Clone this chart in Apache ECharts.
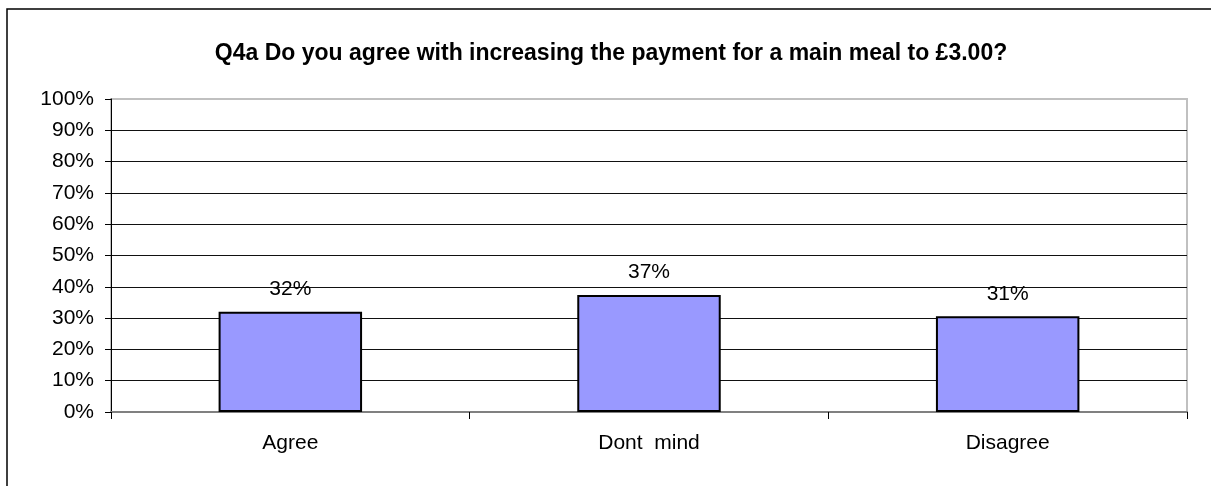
<!DOCTYPE html>
<html><head><meta charset="utf-8">
<script src="https://cdn.jsdelivr.net/npm/echarts@6/dist/echarts.min.js"></script>
<style>html,body{margin:0;padding:0;background:#fff}#c{width:1211px;height:486px}</style>
</head><body><div id="c"></div>
<script>
var titleText = 'Q4a Do you agree with increasing the payment for a main meal to £3.00?';
var categories = ['Agree', 'Dont  mind', 'Disagree'];
var values = [32.0, 37.4, 30.6];
var yTicks = [0, 10, 20, 30, 40, 50, 60, 70, 80, 90, 100];

var font = 'Arial, "Liberation Sans", sans-serif';
var splitColors = yTicks.map(function (t, i) { return (i === 0) ? '#808080' : (i === yTicks.length - 1 ? '#c0c0c0' : '#111'); });

var chart = echarts.init(document.getElementById('c'), null, {renderer: 'canvas'});
chart.setOption({
  animation: false,
  backgroundColor: '#fff',
  title: {
    text: titleText, left: 606, textAlign: 'center', top: 37,
    textStyle: {fontFamily: font, fontWeight: 'bold', fontSize: 23, color: '#000'}
  },
  graphic: [{
    type: 'rect', shape: {x: 7, y: 9, width: 1300, height: 600},
    style: {fill: 'none', stroke: '#000', lineWidth: 1.5}, silent: true, z: 100
  }],
  grid: {left: 111, right: 24, top: 99, bottom: 74, show: true, borderColor: '#c0c0c0', borderWidth: 2, containLabel: false},
  xAxis: {
    type: 'category', data: categories,
    axisLine: {show: true, lineStyle: {color: '#808080', width: 2}},
    axisTick: {show: true, length: 7, lineStyle: {color: '#000'}},
    axisLabel: {fontFamily: font, fontSize: 21, color: '#000', margin: 21}
  },
  yAxis: {
    type: 'value', min: 0, max: 100, interval: 10,
    axisLine: {show: true, lineStyle: {color: '#000', width: 1}},
    axisTick: {show: true, length: 6, lineStyle: {color: '#000'}},
    axisLabel: {fontFamily: font, fontSize: 21, color: '#000', margin: 17, formatter: '{value}%'},
    splitLine: {show: true, lineStyle: {color: splitColors, width: 1}}
  },
  series: [{
    type: 'bar', data: values, barWidth: '40%',
    itemStyle: {color: '#9999FF', borderColor: '#000', borderWidth: 2},
    label: {
      show: true, position: 'top', distance: 12,
      fontFamily: font, fontSize: 21, color: '#000',
      formatter: function (p) { return Math.round(p.value) + '%'; }
    }
  }]
});
</script></body></html>
